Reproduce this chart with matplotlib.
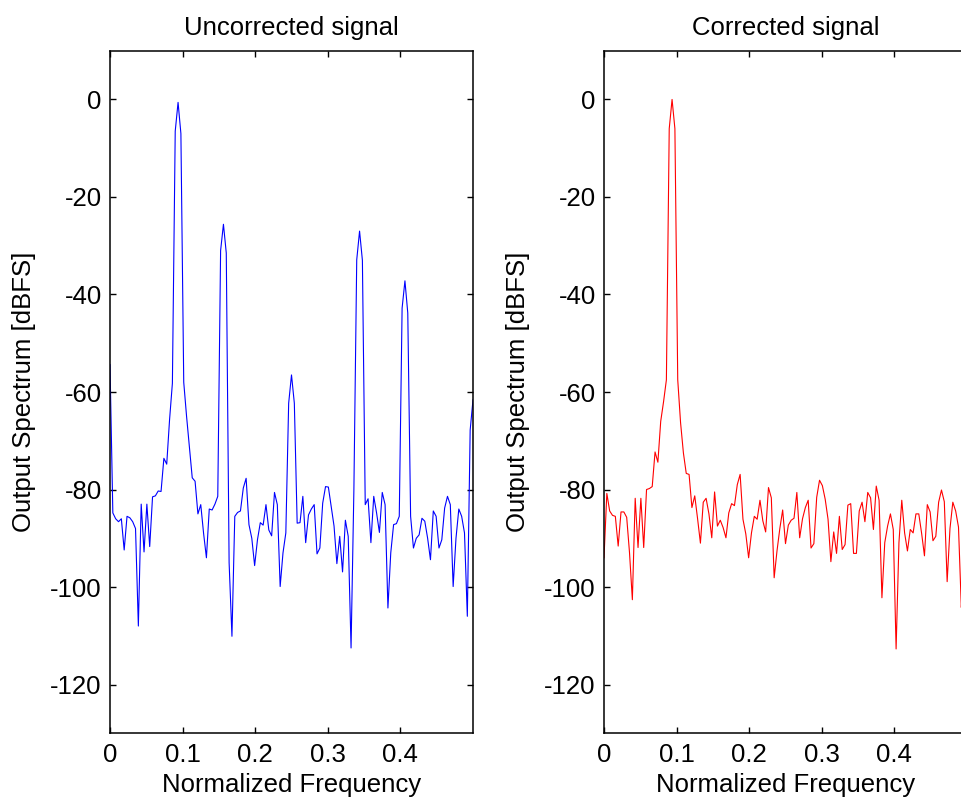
import numpy as np
import matplotlib
matplotlib.use("Agg")
import matplotlib.pyplot as plt

# spectra, one value per FFT bin (N = 256, bins 0..128)
uncorrected_db = [
    -54.4, -84.8, -86.0, -86.6, -86.0, -92.4, -85.5, -85.8, -86.6, -88.0,
    -108.0, -83.0, -92.8, -83.0, -91.7, -81.5, -81.3, -80.3, -80.4, -73.6,
    -74.8, -65.7, -58.2, -6.5, -0.6, -7.0, -58.0, -65.0, -71.2, -77.6,
    -78.3, -85.0, -83.1, -89.0, -94.0, -84.0, -84.2, -83.0, -81.4, -31.0,
    -25.6, -31.5, -95.0, -110.1, -85.5, -84.7, -84.4, -79.7, -77.7, -87.2,
    -90.0, -95.6, -90.3, -86.8, -87.3, -83.1, -88.3, -89.5, -80.6, -83.1,
    -99.9, -93.0, -88.9, -62.3, -56.5, -62.3, -86.9, -86.8, -81.4, -90.9,
    -85.2, -84.0, -83.1, -93.2, -92.0, -82.8, -79.4, -79.5, -83.5, -87.5,
    -95.2, -89.6, -96.9, -86.3, -89.6, -112.5, -80.0, -32.9, -27.0, -33.0,
    -83.1, -81.9, -90.9, -81.4, -84.8, -88.8, -80.6, -83.1, -104.3, -93.0,
    -87.2, -87.0, -85.5, -42.8, -37.2, -43.8, -85.5, -92.0, -90.0, -89.3,
    -85.9, -86.5, -90.0, -94.4, -84.4, -85.5, -92.0, -90.3, -83.8, -81.4,
    -83.1, -99.9, -90.0, -84.0, -85.5, -88.9, -106.0, -67.8, -61.6,
]

corrected_db = [
    -94.0, -80.8, -84.4, -85.3, -85.5, -91.6, -84.6, -84.6, -85.7, -93.0,
    -102.6, -81.8, -91.9, -81.8, -91.9, -80.0, -79.8, -79.4, -72.3, -74.4,
    -66.0, -62.0, -57.5, -6.0, 0.0, -6.0, -57.5, -66.3, -72.5, -76.7,
    -76.9, -83.7, -81.3, -86.0, -91.0, -82.6, -81.8, -85.0, -89.9, -80.5,
    -87.5, -86.3, -87.8, -89.9, -84.8, -82.9, -83.3, -79.0, -76.9, -86.1,
    -89.1, -94.0, -88.9, -85.5, -86.1, -82.2, -86.4, -88.7, -79.6, -81.7,
    -98.1, -92.6, -88.0, -84.2, -91.1, -87.3, -86.3, -85.9, -80.6, -89.9,
    -86.0, -83.7, -82.2, -92.0, -91.1, -81.6, -78.1, -79.2, -82.0, -86.1,
    -94.8, -88.7, -93.1, -85.5, -92.3, -91.3, -83.2, -82.9, -93.1, -93.1,
    -84.4, -82.6, -86.6, -80.6, -81.7, -88.2, -79.3, -82.2, -102.2, -90.9,
    -87.5, -85.0, -88.2, -112.7, -90.9, -82.2, -88.9, -92.6, -88.2, -88.9,
    -85.0, -85.0, -89.0, -93.6, -83.1, -84.6, -90.5, -89.6, -82.6, -80.1,
    -82.5, -98.9, -88.0, -82.6, -84.4, -87.7, -104.2, -95.0, -90.0,
]

titles = ["Uncorrected signal", "Corrected signal"]
colors = ["#0000ff", "#ff0000"]
xticks = [0, 0.1, 0.2, 0.3, 0.4]
yticks = [-120, -100, -80, -60, -40, -20, 0]

plt.rcParams["font.family"] = ["Liberation Sans", "DejaVu Sans"]
plt.rcParams["axes.unicode_minus"] = False

W, H = 962, 807
fig = plt.figure(figsize=(W / 100, H / 100), dpi=100)

freq = np.arange(len(uncorrected_db)) / 256.0
fs = 18.5

# axes boxes in pixels: left, right, top, bottom
boxes = [(110, 473, 50.7, 733.3), (604, 967, 50.7, 733.3)]

for box, data, title, col in zip(boxes, [uncorrected_db, corrected_db], titles, colors):
    l, r, t, b = box
    ax = fig.add_axes([l / W, (H - b) / H, (r - l) / W, (b - t) / H])
    ax.plot(freq, data, color=col, lw=0.8)
    ax.set_xlim(0, 0.5)
    ax.set_ylim(-130, 10)
    ax.set_xticks(xticks)
    ax.set_xticklabels([f"{v:g}" for v in xticks])
    ax.set_yticks(yticks)
    ax.tick_params(direction="in", length=4.5, width=1, top=True, right=True,
                   labelsize=fs, pad=7)
    ax.tick_params(axis="y", pad=6)
    for s in ax.spines.values():
        s.set_linewidth(1.1)
    ax.set_title(title, fontsize=fs, pad=11)
    ax.set_xlabel("Normalized Frequency", fontsize=fs)
    ax.set_ylabel("Output Spectrum [dBFS]", fontsize=fs)
    ax.xaxis.set_label_coords(0.5, -0.058)
    ax.yaxis.set_label_coords(-0.205, 0.5)

fig.savefig("out.png", dpi=100)
